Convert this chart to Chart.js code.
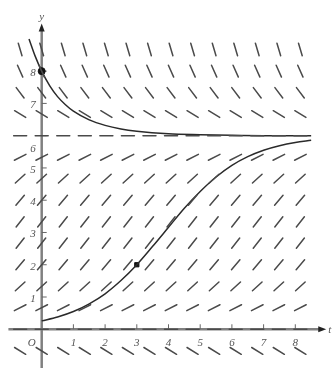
<!DOCTYPE html>
<html>
<head>
<meta charset="utf-8">
<script src="https://cdn.jsdelivr.net/npm/chart.js@4.4.1/dist/chart.umd.min.js"></script>
<style>
  html, body { margin: 0; padding: 0; background: #fff; }
  #wrap { width: 332px; height: 373px; }
</style>
</head>
<body>
<div id="wrap"><canvas id="field"></canvas></div>
<script>
/* ── slope field of a logistic-type equation, carrying level 6 ── */

// Slope-field grid (rows: y values, cols: t values) and slope read per row
const rowY     = [-0.67, 0, 0.67, 1.33, 2, 2.67, 3.33, 4, 4.67, 5.33, 6, 6.67, 7.33, 8, 8.67];
const rowSlope = [-0.6, 0, 0.5, 0.9, 1.15, 1.25, 1.25, 1.15, 0.9, 0.5, 0, -0.6, -1.3, -2.2, -3.3];
const colT     = [-0.68, 0, 0.68, 1.36, 2.04, 2.72, 3.4, 4.08, 4.76, 5.44, 6.12, 6.8, 7.48, 8.16];

// Solution curve starting above 6
const upperT = [-0.4, -0.2, 0, 0.25, 0.5, 0.75, 1, 1.5, 2, 2.5, 3, 4, 5, 6, 7, 8.5];
const upperY = [9.0, 8.45, 8.0, 7.55, 7.21, 6.96, 6.76, 6.49, 6.32, 6.21, 6.14, 6.06, 6.03, 6.01, 6.0, 6.0];

// Solution curve through (3, 2)
const lowerT = [0, 0.5, 1, 1.5, 2, 2.5, 3, 3.5, 4, 4.5, 5, 5.5, 6, 6.5, 7, 7.5, 8, 8.5];
const lowerY = [0.26, 0.38, 0.55, 0.79, 1.1, 1.51, 2.0, 2.57, 3.16, 3.75, 4.27, 4.72, 5.08, 5.35, 5.55, 5.69, 5.79, 5.86];

// Marked points
const dotRound  = [{ x: 0, y: 8 }];
const dotSquare = [{ x: 3, y: 2 }];

// Axis tick labels
const xTicks = [1, 2, 3, 4, 5, 6, 7, 8];
const yTicks = [1, 2, 3, 4, 5, 6, 7, 8];

const INK = '#4a4a4a';
const SEG_LEN = 13; // px

const axesPlugin = {
  id: 'axes',
  beforeDatasetsDraw(chart) {
    const { ctx: c, scales: { x, y } } = chart;
    const x0 = x.getPixelForValue(0), y0 = y.getPixelForValue(0);
    c.save();
    c.strokeStyle = '#808080';
    c.lineWidth = 2.5;
    c.beginPath();
    c.moveTo(x.getPixelForValue(-1.05), y0);
    c.lineTo(x.getPixelForValue(8.85), y0);
    c.moveTo(x0, y.getPixelForValue(-1.2));
    c.lineTo(x0, y.getPixelForValue(9.35));
    c.stroke();

    // arrow heads
    c.fillStyle = '#222';
    const ax = x.getPixelForValue(8.85), ay = y.getPixelForValue(9.35);
    c.beginPath();
    c.moveTo(ax + 4, y0); c.lineTo(ax - 4, y0 - 3); c.lineTo(ax - 4, y0 + 3);
    c.closePath(); c.fill();
    c.beginPath();
    c.moveTo(x0, ay - 4); c.lineTo(x0 - 3, ay + 4); c.lineTo(x0 + 3, ay + 4);
    c.closePath(); c.fill();

    // tick marks
    c.strokeStyle = '#666';
    c.lineWidth = 1;
    c.beginPath();
    xTicks.forEach(v => {
      const px = x.getPixelForValue(v);
      c.moveTo(px, y0 - 5); c.lineTo(px, y0);
    });
    yTicks.forEach(v => {
      const py = y.getPixelForValue(v);
      c.moveTo(x0, py); c.lineTo(x0 + 5, py);
    });
    c.stroke();

    // labels
    c.fillStyle = '#555';
    c.font = "italic 11px 'Liberation Serif', serif";
    c.textAlign = 'center';
    c.textBaseline = 'middle';
    xTicks.forEach(v => c.fillText(String(v), x.getPixelForValue(v), y0 + 14));
    c.textAlign = 'right';
    yTicks.forEach(v => {
      const off = v === 6 ? 13 : 2;
      c.fillText(String(v), x0 - 6, y.getPixelForValue(v) + off);
    });
    c.fillText('O', x0 - 6, y0 + 14);
    c.textAlign = 'left';
    c.fillText('t', ax + 6, y0 + 1);
    c.textAlign = 'center';
    c.fillText('y', x0, ay - 10);
    c.restore();
  }
};

const segDatasets = rowY.map(() => ({
  data: [],
  borderColor: INK,
  borderWidth: 1.5,
  pointRadius: 0,
  spanGaps: false,
  tension: 0,
  borderCapStyle: 'round',
}));

const curve = (ts, ys) => ts.map((t, i) => ({ x: t, y: ys[i] }));

const chart = new Chart(document.getElementById('field'), {
  type: 'line',
  data: {
    datasets: [
      ...segDatasets,
      {
        data: curve(upperT, upperY),
        borderColor: '#2a2a2a',
        borderWidth: 1.5,
        pointRadius: 0,
        cubicInterpolationMode: 'monotone',
      },
      {
        data: curve(lowerT, lowerY),
        borderColor: '#2a2a2a',
        borderWidth: 1.5,
        pointRadius: 0,
        cubicInterpolationMode: 'monotone',
      },
      {
        type: 'scatter',
        data: dotRound,
        pointRadius: 3.5,
        pointStyle: 'circle',
        backgroundColor: '#111',
        borderColor: '#111',
      },
      {
        type: 'scatter',
        data: dotSquare,
        pointRadius: 3,
        pointStyle: 'rect',
        backgroundColor: '#111',
        borderColor: '#111',
      },
    ]
  },
  options: {
    responsive: true,
    maintainAspectRatio: false,
    animation: false,
    events: [],
    layout: { padding: { left: 10, right: 2, top: 2, bottom: 1 } },
    plugins: {
      legend: { display: false },
      tooltip: { enabled: false },
    },
    scales: {
      x: { type: 'linear', min: -1, max: 9, display: false },
      y: { type: 'linear', min: -1.2, max: 10.05, display: false },
    },
  },
  plugins: [axesPlugin],
});

// Build the short slope marks now that the scales know their pixel size
(function buildSegments() {
  const { x, y } = chart.scales;
  const kx = Math.abs(x.getPixelForValue(1) - x.getPixelForValue(0));
  const ky = Math.abs(y.getPixelForValue(1) - y.getPixelForValue(0));
  rowY.forEach((yv, r) => {
    const ang = Math.atan(rowSlope[r] * ky / kx);
    const dt = (SEG_LEN / 2) * Math.cos(ang) / kx;
    const dy = (SEG_LEN / 2) * Math.sin(ang) / ky;
    const pts = [];
    colT.forEach(t => {
      pts.push({ x: t - dt, y: yv - dy }, { x: t + dt, y: yv + dy }, { x: t + dt, y: null });
    });
    chart.data.datasets[r].data = pts;
  });
  chart.update('none');
})();
</script>
</body>
</html>
